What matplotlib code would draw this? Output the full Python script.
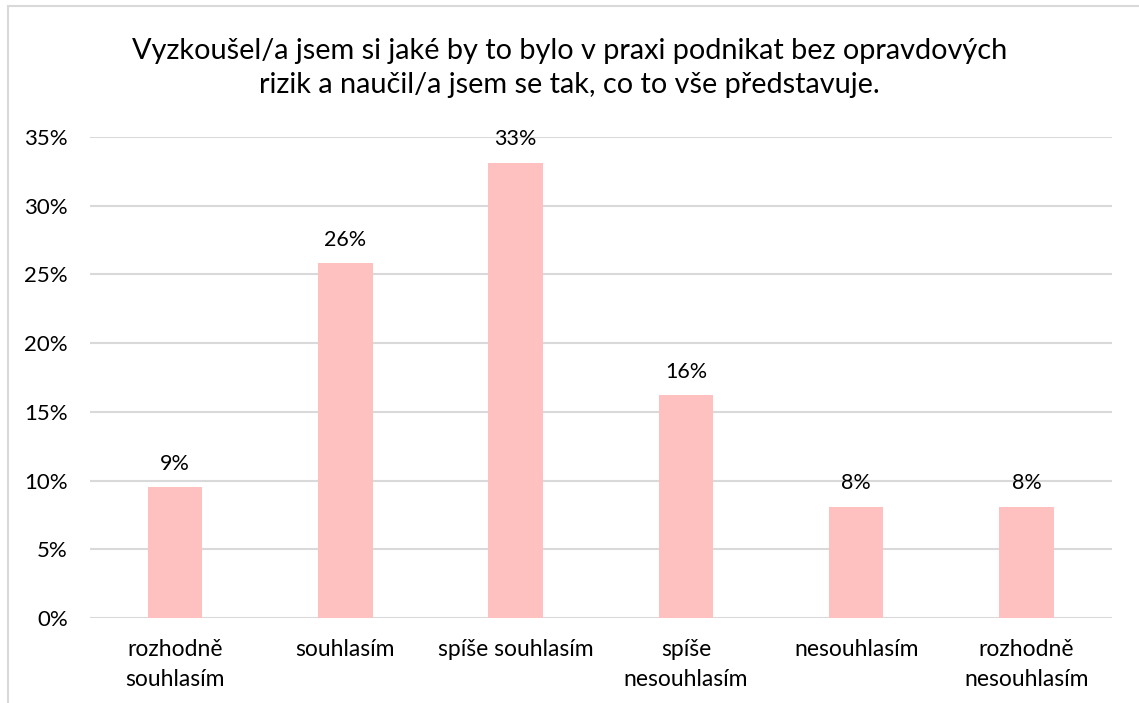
import matplotlib.pyplot as plt
from matplotlib.patches import Rectangle
from matplotlib.ticker import PercentFormatter

categories = ['rozhodně\nsouhlasím', 'souhlasím', 'spíše souhlasím',
              'spíše\nnesouhlasím', 'nesouhlasím', 'rozhodně\nnesouhlasím']
values = [0.095, 0.258, 0.331, 0.162, 0.081, 0.081]
labels = ['9%', '26%', '33%', '16%', '8%', '8%']
title = ('Vyzkoušel/a jsem si jaké by to bylo v praxi podnikat bez opravdových\n'
         'rizik a naučil/a jsem se tak, co to vše představuje.')

plt.rcParams['font.family'] = ['Lato', 'DejaVu Sans']

fig = plt.figure(figsize=(11.39, 7.03), dpi=100)
ax = fig.add_axes([0.079, 0.1209, 0.8969, 0.6841])

x = range(len(categories))
ax.bar(x, values, width=0.32, color='#ffc0c0', zorder=2)
for xi, v, lab in zip(x, values, labels):
    ax.annotate(lab, (xi, v), xytext=(0, 10), textcoords='offset points',
                ha='center', va='bottom', fontsize=15.5)

ax.set_xlim(-0.5, len(categories) - 0.5)
ax.set_ylim(0, 0.35)
ax.set_yticks([i * 0.05 for i in range(8)])
ax.yaxis.set_major_formatter(PercentFormatter(1.0, decimals=0))
ax.set_xticks(list(x))
ax.set_xticklabels(categories, fontsize=16.5, linespacing=1.55)
ax.tick_params(axis='y', labelsize=16, length=0, pad=16)
ax.tick_params(axis='x', length=0, pad=15)
ax.grid(axis='y', color='#d9d9d9', linewidth=1.5, zorder=0)
for s in ax.spines.values():
    s.set_visible(False)

fig.text(0.5, 0.903, title, ha='center', va='center', fontsize=20.8,
         linespacing=1.38)

# outer chart border (top and left visible)
fig.add_artist(Rectangle((8 / 1139, -0.01), 1.1, 1 - 6 / 703 + 0.01,
                         transform=fig.transFigure, fill=False,
                         edgecolor='#d9d9d9', linewidth=1.5))

fig.savefig('out.png', dpi=100)
